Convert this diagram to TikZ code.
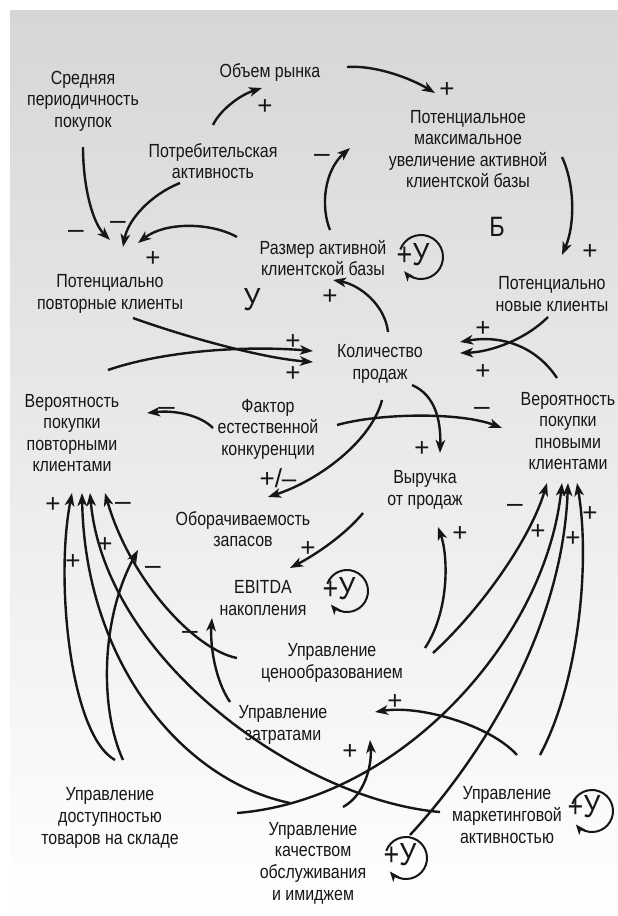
\documentclass[tikz,border=0pt]{standalone}
\usepackage{fontspec}
\setmainfont{Liberation Sans}[FakeStretch=0.84]
\newfontfamily\signfont{Liberation Sans}
\usetikzlibrary{arrows.meta}
\definecolor{ink}{HTML}{161616}
\begin{document}
\begin{tikzpicture}[x=1pt,y=-1pt,
  lbl/.style={align=center,inner sep=0pt,text=ink,font=\fontsize{19}{21.6}\selectfont},
  big/.style={inner sep=0pt,text=ink,font=\fontsize{32}{32}\selectfont},
  pl/.style={inner sep=0pt,text=ink,font=\signfont\fontsize{26}{26}\selectfont,anchor=base,yshift=-9.2pt},
  mi/.style={inner sep=0pt,text=ink,font=\signfont\fontsize{28}{28}\selectfont,anchor=base,yshift=-7.4pt},
  arr/.style={draw=ink,line width=2.4pt,-{Stealth[length=13pt,width=9.5pt,inset=3.5pt]}},
  lp/.style={draw=ink,line width=2pt,-{Stealth[length=10pt,width=8pt,inset=2.5pt]}}]
\useasboundingbox (0,0) rectangle (618,916);
\fill[white] (0,0) rectangle (618,916);
\shade[top color=black!16, middle color=black!9, bottom color=white] (10,10) rectangle (618,916);

% nodes
\node[lbl] (sred) at (83,101) {Средняя\\периодичность\\покупок};
\node[lbl] (obem) at (270,73) {Объем рынка};
\node[lbl] (potreb) at (213,161) {Потребительская\\активность};
\node[lbl] (potmax) at (468,149) {Потенциальное\\максимальное\\увеличение активной\\клиентской базы};
\node[big,font=\fontsize{28}{28}\selectfont] (B) at (497,227) {Б};
\node[lbl] (razmer) at (323,258) {Размер активной\\клиентской базы};
\node[lbl] (povt) at (110,294) {Потенциально\\повторные клиенты};
\node[lbl] (novye) at (552,294) {Потенциально\\новые клиенты};
\node[big] (U) at (252,300) {У};
\node[lbl] (kolvo) at (380,364) {Количество\\продаж};
\node[lbl] (verpovt) at (72,433) {Вероятность\\покупки\\повторными\\клиентами};
\node[lbl] (faktor) at (268,429) {Фактор\\естественной\\конкуренции};
\node[lbl] (vernov) at (568,431) {Вероятность\\покупки\\пновыми\\клиентами};
\node[lbl] (vyr) at (425,490) {Выручка\\от продаж};
\node[lbl] (obor) at (243,529) {Оборачиваемость\\запасов};
\node[lbl] (ebitda) at (263,598) {EBITDA\\накопления};
\node[lbl] (cenoobr) at (332,663) {Управление\\ценообразованием};
\node[lbl] (zatr) at (283,725) {Управление\\затратами};
\node[lbl] (dost) at (110,818) {Управление\\доступностью\\товаров на складе};
\node[lbl] (kach) at (313,863) {Управление\\качеством\\обслуживания\\и имиджем};
\node[lbl] (mark) at (507,815) {Управление\\маркетинговой\\активностью};

% endpoints
\coordinate (s1) at (83,147);   \coordinate (e1) at (110,240);
\coordinate (s2) at (180,183);  \coordinate (e2) at (123,247);
\coordinate (s3) at (237,237);  \coordinate (e3) at (138,243);
\coordinate (s4) at (213,125);  \coordinate (e4) at (262,88);
\coordinate (s5) at (347,67);   \coordinate (e5) at (435,93);
\coordinate (s6) at (330,230);  \coordinate (e6) at (350,148);
\coordinate (s7) at (562,157);  \coordinate (e7) at (562,255);
\coordinate (s8) at (388,332);  \coordinate (e8) at (333,280);
\coordinate (s9) at (133,318);  \coordinate (e9) at (313,362);
\coordinate (s10) at (108,370); \coordinate (e10) at (313,351);
\coordinate (s11) at (548,317); \coordinate (e11) at (460,353);
\coordinate (s12) at (557,378); \coordinate (e12) at (460,342);
\coordinate (s13) at (213,428); \coordinate (e13) at (147,413);
\coordinate (s14) at (337,425); \coordinate (e14) at (502,428);
\coordinate (s15) at (412,385); \coordinate (e15) at (440,453);
\coordinate (s16) at (382,400); \coordinate (e16) at (268,497);
\coordinate (s17) at (363,513); \coordinate (e17) at (290,568);
\coordinate (s18) at (425,648); \coordinate (e18) at (438,527);
\coordinate (s19) at (433,653); \coordinate (e19) at (547,483);
\coordinate (s20) at (237,813); \coordinate (e20) at (562,483);
\coordinate (s21) at (410,835); \coordinate (e21) at (568,483);
\coordinate (s22) at (540,755); \coordinate (e22) at (577,483);
\coordinate (s23) at (517,755); \coordinate (e23) at (375,712);
\coordinate (s24) at (343,807); \coordinate (e24) at (370,740);
\coordinate (s25) at (230,702); \coordinate (e25) at (212,618);
\coordinate (s26) at (237,658); \coordinate (e26) at (105,493);
\coordinate (s27) at (123,760); \coordinate (e27) at (138,550);
\coordinate (s28) at (115,760); \coordinate (e28) at (72,493);
\coordinate (s29) at (290,803); \coordinate (e29) at (82,493);
\coordinate (s30) at (440,812); \coordinate (e30) at (90,493);

% connectors
\draw[arr] (s1) .. controls (83,185) and (92,222) .. (e1);
\draw[arr] (s2) .. controls (150,195) and (128,220) .. (e2);
\draw[arr] (s3) .. controls (210,222) and (165,222) .. (e3);
\draw[arr] (s4) .. controls (220,110) and (240,95) .. (e4);
\draw[arr] (s5) .. controls (375,65) and (410,78) .. (e5);
\draw[arr] (s6) .. controls (320,205) and (325,170) .. (e6);
\draw[arr] (s7) .. controls (575,185) and (575,225) .. (e7);
\draw[arr] (s8) .. controls (385,305) and (360,285) .. (e8);
\draw[arr] (s9) .. controls (180,335) and (260,358) .. (e9);
\draw[arr] (s10) .. controls (160,352) and (240,345) .. (e10);
\draw[arr] (s11) .. controls (525,340) and (490,352) .. (e11);
\draw[arr] (s12) .. controls (535,345) and (500,335) .. (e12);
\draw[arr] (s13) .. controls (200,415) and (175,410) .. (e13);
\draw[arr] (s14) .. controls (380,413) and (460,412) .. (e14);
\draw[arr] (s15) .. controls (435,395) and (441,420) .. (e15);
\draw[arr] (s16) .. controls (372,440) and (320,480) .. (e16);
\draw[arr] (s17) .. controls (345,535) and (315,555) .. (e17);
\draw[arr] (s18) .. controls (450,610) and (448,555) .. (e18);
\draw[arr] (s19) .. controls (480,610) and (530,540) .. (e19);
\draw[arr] (s20) .. controls (400,800) and (545,640) .. (e20);
\draw[arr] (s21) .. controls (470,770) and (562,640) .. (e21);
\draw[arr] (s22) .. controls (580,680) and (590,560) .. (e22);
\draw[arr] (s23) .. controls (490,725) and (420,705) .. (e23);
\draw[arr] (s24) .. controls (365,795) and (372,765) .. (e24);
\draw[arr] (s25) .. controls (215,680) and (210,645) .. (e25);
\draw[arr] (s26) .. controls (195,650) and (130,580) .. (e26);
\draw[arr] (s27) .. controls (100,710) and (100,620) .. (e27);
\draw[arr] (s28) .. controls (70,735) and (55,580) .. (e28);
\draw[arr] (s29) .. controls (180,780) and (85,660) .. (e29);
\draw[arr] (s30) .. controls (300,800) and (105,660) .. (e30);

% polarity signs
\node[mi] at (76,231) {–};
\node[mi] at (118,222) {–};
\node[pl] at (153,257) {+};
\node[pl] at (265,105) {+};
\node[pl] at (447,88) {+};
\node[mi] at (322,155) {–};
\node[pl] at (590,250) {+};
\node[pl] at (330,295) {+};
\node[pl] at (293,372) {+};
\node[pl] at (293,340) {+};
\node[pl] at (483,370) {+};
\node[pl] at (483,327) {+};
\node[mi] at (167,408) {–};
\node[mi] at (482,408) {–};
\node[pl] at (422,447) {+};
\node[inner sep=0pt,text=ink,font=\signfont\fontsize{26}{26}\selectfont] at (278,478) {+/–};
\node[pl] at (308,547) {+};
\node[pl] at (460,532) {+};
\node[mi] at (515,505) {–};
\node[pl] at (538,530) {+};
\node[pl] at (573,537) {+};
\node[pl] at (590,512) {+};
\node[pl] at (395,700) {+};
\node[pl] at (350,750) {+};
\node[mi] at (190,632) {–};
\node[mi] at (123,503) {–};
\node[mi] at (153,567) {–};
\node[pl] at (53,503) {+};
\node[pl] at (73,560) {+};
\node[pl] at (105,543) {+};

% reinforcing loops
\coordinate (L1) at (421,257);
\coordinate (L2) at (347,591);
\coordinate (L3) at (406,858);
\coordinate (L4) at (592,811);
\draw[lp] (L1) ++(-160:22) arc[start angle=-160,end angle=140,radius=22];
\draw[lp] (L2) ++(-160:21) arc[start angle=-160,end angle=140,radius=21];
\draw[lp] (L3) ++(-160:21) arc[start angle=-160,end angle=140,radius=21];
\draw[lp] (L4) ++(-160:21) arc[start angle=-160,end angle=140,radius=21];
\node[big] (T1) at (413,255) {+У};
\node[big] (T2) at (339,589) {+У};
\node[big] (T3) at (400,855) {+У};
\node[big] (T4) at (584,807) {+У};
\end{tikzpicture}
\end{document}
